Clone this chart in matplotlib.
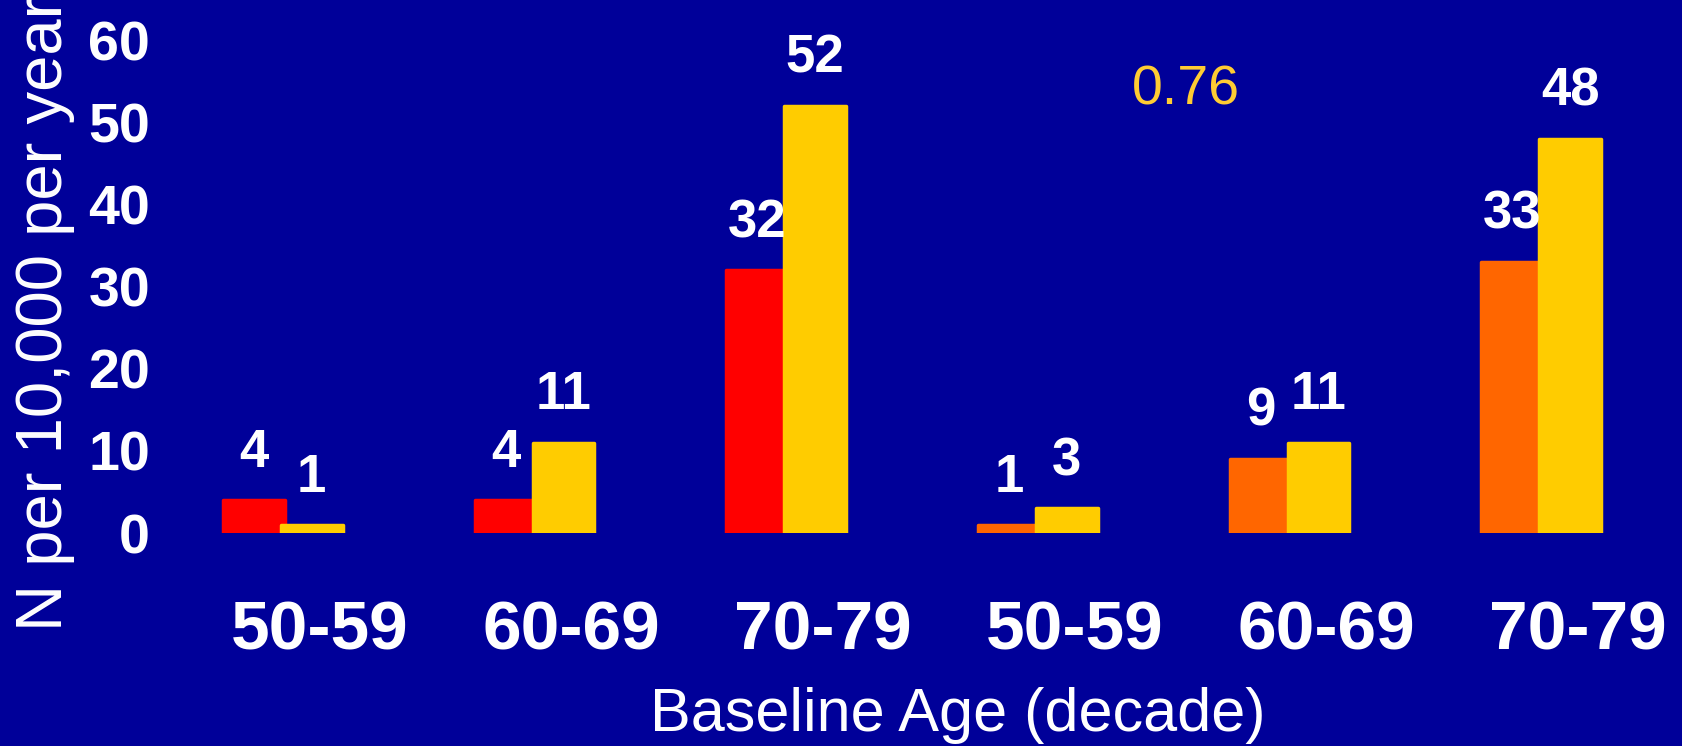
import matplotlib.pyplot as plt
import numpy as np

plt.rcParams['font.family'] = ['Liberation Sans', 'DejaVu Sans']

# incidence per 10,000 per year by baseline age decade, two cohorts side by side
age_groups = ['50-59', '60-69', '70-79', '50-59', '60-69', '70-79']
left_rates = [4, 4, 32, 1, 9, 33]
right_rates = [1, 11, 52, 3, 11, 48]
y_ticks = [0, 10, 20, 30, 40, 50, 60]
p_value = '0.76'

bg = '#000099'
left_colors = ['#FF0000'] * 3 + ['#FF6600'] * 3
right_color = '#FFCC00'

fig = plt.figure(figsize=(16.82, 7.46), dpi=100, facecolor=bg)
ax = fig.add_axes([0.0933, 0.2855, 0.8978, 0.6823])
ax.set_facecolor(bg)

x = np.arange(len(age_groups))
w = 0.245
off = 0.115

lb = ax.bar(x - off, left_rates, w, color=left_colors, edgecolor=left_colors,
            linewidth=2.5, joinstyle='round')
rb = ax.bar(x + off, right_rates, w, color=right_color, edgecolor=right_color,
            linewidth=2.5, joinstyle='round')

for bars, vals in [(lb, left_rates), (rb, right_rates)]:
    for b, v in zip(bars, vals):
        ax.annotate(str(v), (b.get_x() + b.get_width() / 2, v),
                    xytext=(0, 34), textcoords='offset points',
                    ha='center', va='center', color='white',
                    fontsize=38, fontweight='bold')

ax.text(3.59, 53.9, p_value, color='#FFCC33', fontsize=40,
        ha='center', va='center')

ax.set_xlim(-0.5, 5.5)
ax.set_ylim(0, 62)
ax.set_yticks(y_ticks)
ax.set_yticklabels([str(t) for t in y_ticks], fontsize=40, fontweight='bold',
                   color='white')
ax.set_xticks(x + 0.145)
ax.set_xticklabels(age_groups, fontsize=50, fontweight='bold', color='white')
ax.tick_params(axis='y', length=0, pad=5)
ax.tick_params(axis='x', length=0, pad=48)
for s in ax.spines.values():
    s.set_visible(False)

fig.text(958 / 1682, 31 / 746, 'Baseline Age (decade)', color='white',
         fontsize=44, ha='center', va='center')
fig.text(45 / 1682, 115 / 746, 'N per 10,000 per year', color='white',
         fontsize=47, rotation=90, ha='center', va='bottom')

fig.savefig('out.png', facecolor=bg)
